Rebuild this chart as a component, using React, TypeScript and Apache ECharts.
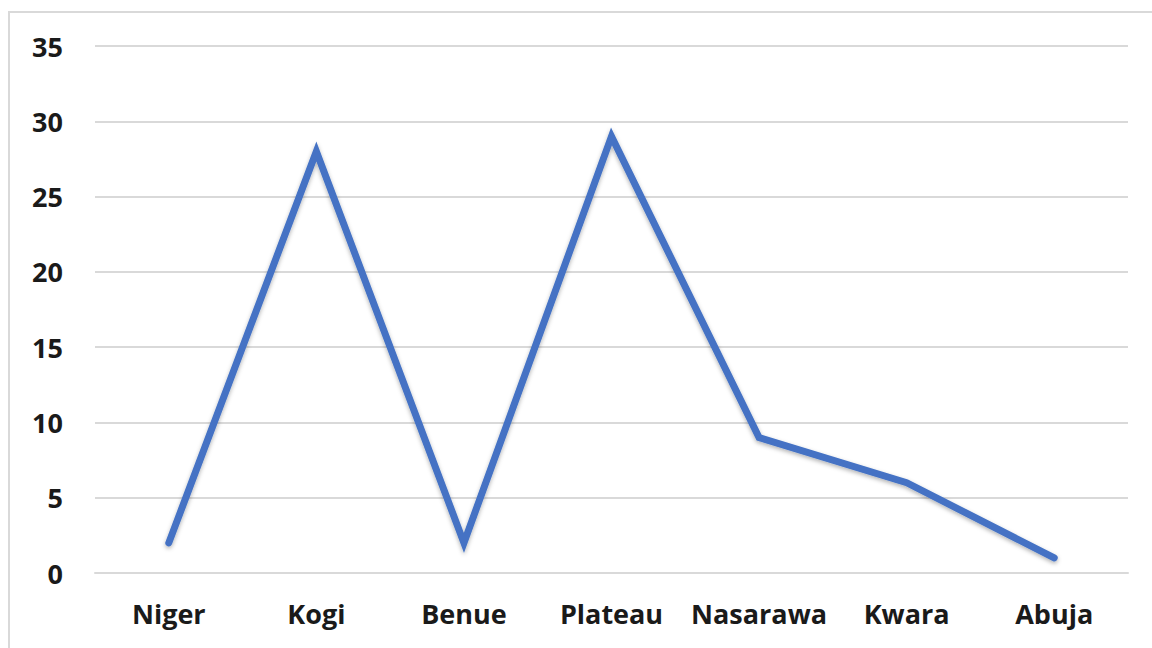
import React, { useEffect, useRef } from "react";
import * as echarts from "echarts";

const categories = ["Niger", "Kogi", "Benue", "Plateau", "Nasarawa", "Kwara", "Abuja"];
const values = [2, 28, 2, 29, 9, 6, 1];
const yTicks = { min: 0, max: 35, interval: 5 };

export default function App() {
  const ref = useRef<HTMLDivElement>(null);
  useEffect(() => {
    const chart = echarts.init(ref.current!, null, { renderer: "svg" });
    chart.setOption({
      animation: false,
      backgroundColor: "#ffffff",
      textStyle: { fontFamily: "Open Sans" },
      graphic: [
        {
          type: "rect",
          shape: { x: 9, y: 12, width: 1200, height: 700 },
          style: { fill: "none", stroke: "#d9d9d9", lineWidth: 2 },
          silent: true,
        },
      ],
      grid: { left: 95, right: 24, top: 46, bottom: 75 },
      xAxis: {
        type: "category",
        data: categories,
        boundaryGap: true,
        axisLine: { show: true, lineStyle: { color: "#d9d9d9", width: 2 } },
        axisTick: { show: false },
        axisLabel: {
          color: "#1a1a1a",
          fontSize: 27,
          fontWeight: "bold",
          fontFamily: "Open Sans",
          margin: 27,
          interval: 0,
          hideOverlap: false,
        },
      },
      yAxis: {
        type: "value",
        min: yTicks.min,
        max: yTicks.max,
        interval: yTicks.interval,
        axisLine: { show: false },
        axisTick: { show: false },
        splitLine: { show: true, lineStyle: { color: "#d9d9d9", width: 2 } },
        axisLabel: {
          color: "#1a1a1a",
          fontSize: 27,
          fontWeight: "bold",
          fontFamily: "Open Sans",
          margin: 32,
        },
      },
      series: [
        {
          type: "line",
          data: values,
          symbol: "none",
          lineStyle: {
            color: "#4472c4",
            width: 7,
            cap: "round",
            join: "miter",
            shadowColor: "rgba(0,0,0,0.3)",
            shadowBlur: 4,
            shadowOffsetY: 2,
          },
        },
      ],
    });
    return () => chart.dispose();
  }, []);
  return (
    <div
      ref={ref}
      style={{ position: "fixed", left: 0, top: 0, width: 1152, height: 648 }}
    />
  );
}
